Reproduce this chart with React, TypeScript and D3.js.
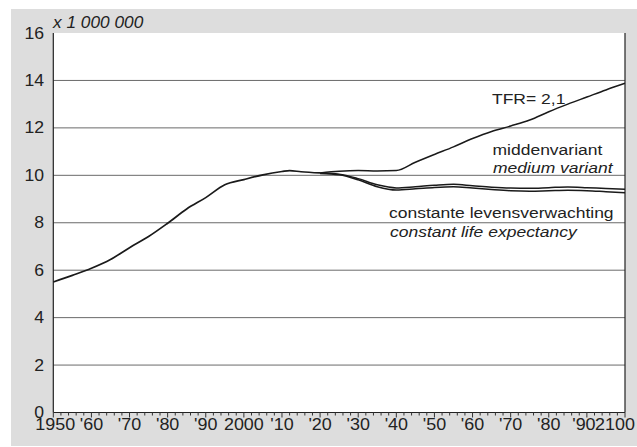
import React from "react";
import * as d3 from "d3";

const histYears = [1950, 1955, 1960, 1965, 1970, 1975, 1980, 1985, 1990, 1995, 2000, 2005, 2010, 2012, 2015, 2020];
const histValues = [5.5, 5.78, 6.08, 6.45, 6.95, 7.42, 7.98, 8.58, 9.06, 9.6, 9.82, 10.02, 10.16, 10.2, 10.15, 10.1];

const projYears = [2020, 2025, 2030, 2035, 2040, 2045, 2050, 2055, 2060, 2065, 2070, 2075, 2080, 2085, 2090, 2095, 2100];
const tfrValues = [10.1, 10.17, 10.2, 10.18, 10.2, 10.55, 10.88, 11.2, 11.55, 11.85, 12.08, 12.33, 12.68, 13.0, 13.3, 13.6, 13.88];
const mediumValues = [10.1, 10.05, 9.86, 9.6, 9.47, 9.52, 9.58, 9.62, 9.56, 9.5, 9.46, 9.45, 9.48, 9.51, 9.48, 9.44, 9.41];
const constLEValues = [10.08, 10.02, 9.81, 9.52, 9.38, 9.43, 9.49, 9.52, 9.46, 9.4, 9.35, 9.33, 9.35, 9.37, 9.35, 9.31, 9.27];

const yTicks = [0, 2, 4, 6, 8, 10, 12, 14, 16];
const xMajorTicks = [1950, 1960, 1970, 1980, 1990, 2000, 2010, 2020, 2030, 2040, 2050, 2060, 2070, 2080, 2090, 2100];
const xTickLabels = ["1950", "'60", "'70", "'80", "'90", "2000", "'10", "'20", "'30", "'40", "'50", "'60", "'70", "'80", "'90", "2100"];

const W = 637;
const H = 447;
const left = 53.3;
const right = 625;
const top = 33;
const bottom = 412.5;

const FONT = "'Liberation Sans', Arial, Helvetica, sans-serif";

export default function App() {
  const x = d3.scaleLinear().domain([1950, 2100]).range([left, right]);
  const y = d3.scaleLinear().domain([0, 16]).range([bottom, top]);
  const line = d3
    .line<[number, number]>()
    .x((d) => x(d[0]))
    .y((d) => y(d[1]))
    .curve(d3.curveMonotoneX);

  const hist = histYears.map((yr, i) => [yr, histValues[i]] as [number, number]);
  const series = [tfrValues, mediumValues, constLEValues].map((vals) =>
    projYears.map((yr, i) => [yr, vals[i]] as [number, number])
  );
  const minorTicks = d3.range(1950, 2101, 2);

  const txt = (
    key: string,
    tx: number,
    ty: number,
    s: string,
    opts: { anchor?: string; italic?: boolean; size?: number; sx?: number } = {}
  ) => (
    <text
      key={key}
      transform={`translate(${tx},${ty}) scale(${opts.sx || 1.13},1)`}
      textAnchor={opts.anchor || "start"}
      fontStyle={opts.italic ? "italic" : "normal"}
      fontSize={opts.size || 15.5}
      fontFamily={FONT}
      fill="#222"
    >
      {s}
    </text>
  );

  const labelShift = (i: number) => (i === 0 ? 2 : i === xMajorTicks.length - 1 ? -10 : i === xMajorTicks.length - 2 ? -3 : 0);

  return (
    <svg width={W} height={H} style={{ position: "absolute", left: 0, top: 0 }}>
      <rect x={11} y={9} width={W - 11} height={437} fill="#dddddd" />
      <rect x={left} y={top} width={right - left} height={bottom - top} fill="#ffffff" />
      {yTicks
        .filter((t) => t > 0 && t < 16)
        .map((t) => (
          <line key={"g" + t} x1={left} x2={right} y1={y(t)} y2={y(t)} stroke="#6a6a6a" strokeWidth={1} />
        ))}
      <line x1={left} x2={left} y1={top} y2={bottom} stroke="#222" strokeWidth={1.2} />
      <line x1={right} x2={right} y1={top} y2={bottom} stroke="#222" strokeWidth={1.2} />
      <line x1={left} x2={right} y1={bottom} y2={bottom} stroke="#222" strokeWidth={1.2} />
      {minorTicks.map((t) => (
        <line
          key={"mt" + t}
          x1={x(t)}
          x2={x(t)}
          y1={bottom}
          y2={bottom + (t % 10 === 0 ? 5 : 3)}
          stroke="#333"
          strokeWidth={1}
        />
      ))}
      {yTicks.map((t) => txt("yl" + t, 44, y(t) + 5.5, String(t), { anchor: "end", size: 16.3, sx: 1.08 }))}
      {xMajorTicks.map((t, i) =>
        txt("xl" + t, x(t) + labelShift(i), 429.5, xTickLabels[i], { anchor: "middle", size: 16.3, sx: 1.1 })
      )}
      {txt("unit", 53, 27.5, "x 1 000 000", { italic: true, size: 16, sx: 1.08 })}

      <path d={line(hist) || ""} fill="none" stroke="#1a1a1a" strokeWidth={1.7} />
      {series.map((s, i) => (
        <path key={"s" + i} d={line(s) || ""} fill="none" stroke="#1a1a1a" strokeWidth={1.5} />
      ))}

      {txt("a1", 492, 103.5, "TFR= 2,1")}
      {txt("a2", 492.5, 154.5, "middenvariant")}
      {txt("a3", 493, 173, "medium variant", { italic: true })}
      {txt("a4", 389, 217.5, "constante levensverwachting")}
      {txt("a5", 390, 237, "constant life expectancy", { italic: true })}
    </svg>
  );
}
